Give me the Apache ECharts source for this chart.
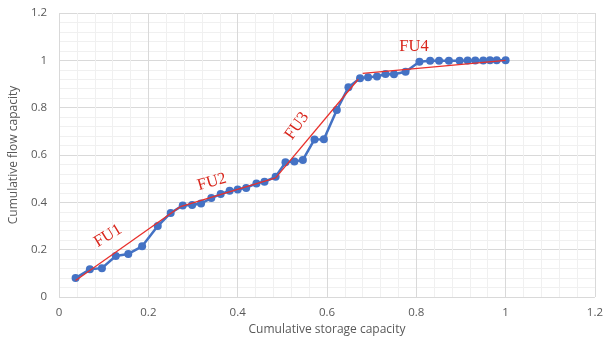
<!DOCTYPE html>
<html><head><meta charset="utf-8">
<script src="https://cdn.jsdelivr.net/npm/echarts@6/dist/echarts.min.js"></script>
<style>html,body{margin:0;padding:0;background:#fff}#c{width:606px;height:343px}</style>
</head><body><div id="c"></div>
<script>
const storage = [0.037,0.069,0.096,0.127,0.155,0.186,0.221,0.250,0.277,0.298,0.318,0.341,0.362,0.382,0.400,0.419,0.442,0.460,0.485,0.507,0.527,0.546,0.572,0.593,0.622,0.648,0.674,0.692,0.712,0.731,0.750,0.776,0.807,0.831,0.851,0.873,0.897,0.915,0.932,0.950,0.965,0.980,1.000];
const flow = [0.080,0.117,0.122,0.173,0.182,0.214,0.300,0.355,0.387,0.389,0.395,0.418,0.435,0.449,0.454,0.461,0.480,0.487,0.508,0.569,0.573,0.579,0.666,0.667,0.790,0.886,0.924,0.929,0.932,0.942,0.941,0.952,0.994,0.998,0.998,0.998,0.998,0.999,0.999,0.999,1.000,1.000,1.000];
const fuNames = ['FU1','FU2','FU3','FU4'];
const fuStartX = [0.037,0.272,0.485,0.680];
const fuStartY = [0.070,0.382,0.503,0.945];
const fuEndX = [0.272,0.485,0.670,1.000];
const fuEndY = [0.382,0.503,0.920,1.000];
const xTicks = [0,0.2,0.4,0.6,0.8,1,1.2];
const yTicks = [0,0.2,0.4,0.6,0.8,1,1.2];

const chart = echarts.init(document.getElementById('c'));
const grey = '#595959';
const axisCommon = {
  min: 0, max: 1.2, interval: 0.2,
  axisLine: {show: false}, axisTick: {show: false},
  splitLine: {show: true, lineStyle: {color: '#d9d9d9', width: 1}},
  minorTick: {show: false, splitNumber: 5},
  minorSplitLine: {show: true, lineStyle: {color: '#f0f0f0', width: 1}},
  axisLabel: {color: grey, fontSize: 11.5, fontFamily: 'Open Sans', formatter: v => String(+v.toFixed(1))},
  nameLocation: 'middle',
  nameTextStyle: {color: grey, fontSize: 12, fontFamily: 'Open Sans'}
};
const series = [{
  type: 'line',
  data: storage.map((x, i) => [x, flow[i]]),
  symbol: 'circle', symbolSize: 8,
  lineStyle: {color: '#4472c4', width: 2.5},
  itemStyle: {color: '#4472c4'},
  z: 2
}];
fuNames.forEach((n, i) => {
  series.push({
    type: 'line', name: n,
    data: [[fuStartX[i], fuStartY[i]], [fuEndX[i], fuEndY[i]]],
    symbol: 'none',
    lineStyle: {color: '#e8302c', width: 1.3},
    z: 3
  });
});
chart.setOption({
  animation: false,
  grid: {left: 55, right: 8, top: 13, bottom: 46},
  xAxis: Object.assign({}, axisCommon, {type: 'value', name: 'Cumulative storage capacity', nameGap: 25,
    axisLabel: Object.assign({}, axisCommon.axisLabel, {margin: 10})}),
  yAxis: Object.assign({}, axisCommon, {type: 'value', name: 'Cumulative flow capacity', nameGap: 30,
    axisLabel: Object.assign({}, axisCommon.axisLabel, {margin: 12})}),
  series: series
});
const lab = {fill: '#d9261c', font: '16.5px "Liberation Serif"', textAlign: 'center', textVerticalAlign: 'middle'};
chart.setOption({graphic: [
  {type: 'text', x: 108, y: 236, rotation: 0.55, style: Object.assign({text: 'FU1'}, lab)},
  {type: 'text', x: 212, y: 182, rotation: 0.28, style: Object.assign({text: 'FU2'}, lab)},
  {type: 'text', x: 297, y: 126, rotation: 0.95, style: Object.assign({text: 'FU3'}, lab)},
  {type: 'text', x: 414, y: 47, rotation: 0, style: Object.assign({text: 'FU4'}, lab)}
]});
</script></body></html>
